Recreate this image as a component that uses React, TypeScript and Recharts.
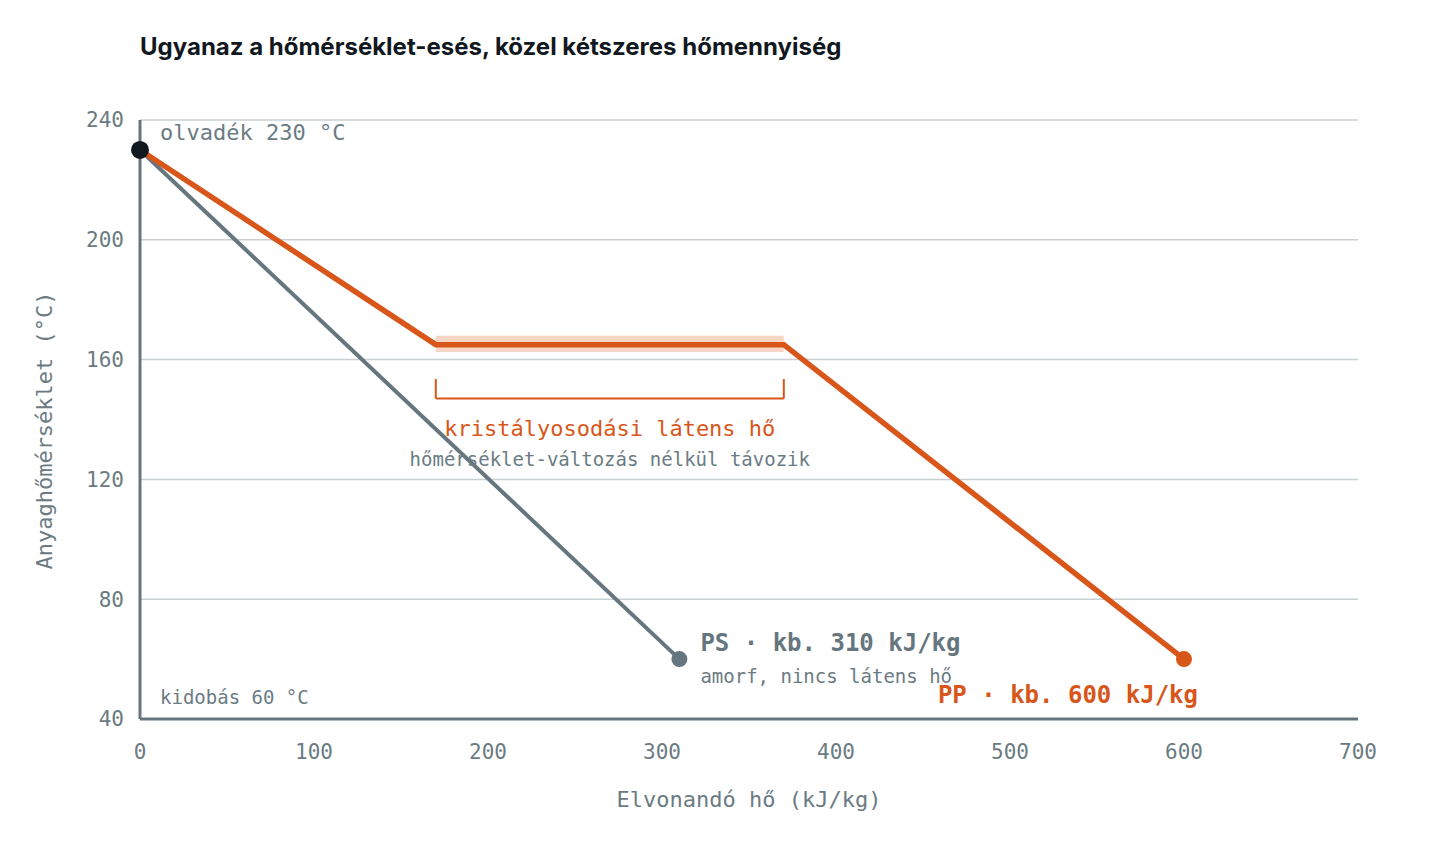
import React from "react";
import {
  LineChart,
  Line,
  XAxis,
  YAxis,
  CartesianGrid,
  ReferenceArea,
  ReferenceLine,
  ReferenceDot,
  Label,
} from "recharts";

// PP (félkristályos): hűlés, kristályosodási plató, majd tovább hűlés
const ppHeat = [0, 170, 370, 600];
const ppTemp = [230, 165, 165, 60];

// PS (amorf): egyenes hűlés
const psHeat = [0, 310];
const psTemp = [230, 60];

const heatTicks = [0, 100, 200, 300, 400, 500, 600, 700];
const tempTicks = [40, 80, 120, 160, 200, 240];

const ppData = ppHeat.map((q, i) => ({ q, t: ppTemp[i] }));
const psData = psHeat.map((q, i) => ({ q, t: psTemp[i] }));

const ORANGE = "#d9561a";
const GREY = "#66767e";
const TEXT = "#6b7b83";
const INK = "#111820";
const MONO = "'DejaVu Sans Mono', 'Liberation Mono', monospace";

const note =
  (text: string, dx: number, dy: number, opts: any = {}) =>
  (props: any) => {
    const vb = props.viewBox || {};
    const cx = (vb.x ?? 0) + (vb.width ?? 0) / 2;
    const cy = (vb.y ?? 0) + (vb.height ?? 0) / 2;
    return (
      <text
        x={cx + dx}
        y={cy + dy}
        fontFamily={MONO}
        fontSize={opts.size ?? 19}
        fontWeight={opts.weight ?? 400}
        fill={opts.color ?? TEXT}
        textAnchor={opts.anchor ?? "start"}
      >
        {text}
      </text>
    );
  };

const endDot = (color: string, last: number) => (props: any) => {
  const { cx, cy, index } = props;
  if (index !== last) return <g key={`d-${index}`} />;
  return <circle key={`d-${index}`} cx={cx} cy={cy} r={8} fill={color} />;
};

export default function App() {
  return (
    <div style={{ position: "relative", width: 1424, height: 844 }}>
      <div
        style={{
          position: "absolute",
          left: 132,
          top: 25,
          fontFamily: "Inter, 'Noto Sans', sans-serif",
          fontWeight: 700,
          fontSize: 24,
          lineHeight: "28px",
          color: INK,
        }}
      >
        Ugyanaz a hőmérséklet-esés, közel kétszeres hőmennyiség
      </div>
      <LineChart
        width={1424}
        height={844}
        margin={{ top: 112, right: 74, bottom: 33, left: 32 }}
      >
        <CartesianGrid vertical={false} stroke="#c9cfd2" strokeWidth={1.5} />
        <XAxis
          type="number"
          dataKey="q"
          domain={[0, 700]}
          ticks={heatTicks}
          height={100}
          tickSize={0}
          tickMargin={25}
          axisLine={{ stroke: GREY, strokeWidth: 3 }}
          tickLine={false}
          tick={{ fill: TEXT, fontSize: 21, fontFamily: MONO }}
        >
          <Label
            content={(p: any) => {
              const vb = p.viewBox;
              return (
                <text
                  x={vb.x + vb.width / 2}
                  y={vb.y + 88}
                  textAnchor="middle"
                  fontFamily={MONO}
                  fontSize={22}
                  fill={TEXT}
                >
                  Elvonandó hő (kJ/kg)
                </text>
              );
            }}
          />
        </XAxis>
        <YAxis
          type="number"
          dataKey="t"
          domain={[40, 240]}
          ticks={tempTicks}
          width={100}
          tickSize={0}
          tickMargin={16}
          axisLine={{ stroke: GREY, strokeWidth: 3 }}
          tickLine={false}
          tick={{ fill: TEXT, fontSize: 21, fontFamily: MONO }}
        >
          <Label
            content={(p: any) => {
              const vb = p.viewBox;
              const x = vb.x + 12;
              const y = vb.y + vb.height / 2 + 11;
              return (
                <text
                  x={x}
                  y={y}
                  transform={`rotate(-90 ${x} ${y})`}
                  textAnchor="middle"
                  fontFamily={MONO}
                  fontSize={22}
                  fill={TEXT}
                >
                  Anyaghőmérséklet (°C)
                </text>
              );
            }}
          />
        </YAxis>

        <ReferenceArea
          x1={170}
          x2={370}
          y1={162.5}
          y2={168}
          fill="#f4c7b0"
          fillOpacity={0.75}
          stroke="none"
        />
        <ReferenceLine
          segment={[
            { x: 170, y: 147 },
            { x: 370, y: 147 },
          ]}
          stroke={ORANGE}
          strokeWidth={2}
        />
        <ReferenceLine
          segment={[
            { x: 170, y: 153.5 },
            { x: 170, y: 147 },
          ]}
          stroke={ORANGE}
          strokeWidth={2}
        />
        <ReferenceLine
          segment={[
            { x: 370, y: 153.5 },
            { x: 370, y: 147 },
          ]}
          stroke={ORANGE}
          strokeWidth={2}
        />

        <Line
          data={psData}
          dataKey="t"
          type="linear"
          stroke={GREY}
          strokeWidth={4}
          dot={endDot(GREY, psData.length - 1)}
          activeDot={false}
          isAnimationActive={false}
        />
        <Line
          data={ppData}
          dataKey="t"
          type="linear"
          stroke={ORANGE}
          strokeWidth={5.5}
          dot={endDot(ORANGE, ppData.length - 1)}
          activeDot={false}
          isAnimationActive={false}
        />

        <ReferenceDot x={0} y={230} r={9} fill={INK} stroke="none" />

        <ReferenceDot
          x={0}
          y={240}
          r={1}
          fill="none"
          stroke="none"
          label={note("olvadék 230 °C", 20, 20, { size: 22 })}
        />
        <ReferenceDot
          x={0}
          y={40}
          r={1}
          fill="none"
          stroke="none"
          label={note("kidobás 60 °C", 20, -15)}
        />
        <ReferenceDot
          x={270}
          y={165}
          r={1}
          fill="none"
          stroke="none"
          label={note("kristályosodási látens hő", 0, 91, {
            size: 22,
            color: ORANGE,
            anchor: "middle",
          })}
        />
        <ReferenceDot
          x={270}
          y={165}
          r={1}
          fill="none"
          stroke="none"
          label={note("hőmérséklet-változás nélkül távozik", 0, 121, {
            anchor: "middle",
          })}
        />
        <ReferenceDot
          x={310}
          y={60}
          r={1}
          fill="none"
          stroke="none"
          label={note("PS · kb. 310 kJ/kg", 21, -8, {
            size: 24,
            weight: 700,
            color: GREY,
          })}
        />
        <ReferenceDot
          x={310}
          y={60}
          r={1}
          fill="none"
          stroke="none"
          label={note("amorf, nincs látens hő", 21, 24)}
        />
        <ReferenceDot
          x={600}
          y={60}
          r={1}
          fill="none"
          stroke="none"
          label={note("PP · kb. 600 kJ/kg", 14, 44, {
            size: 24,
            weight: 700,
            color: ORANGE,
            anchor: "end",
          })}
        />
      </LineChart>
    </div>
  );
}
